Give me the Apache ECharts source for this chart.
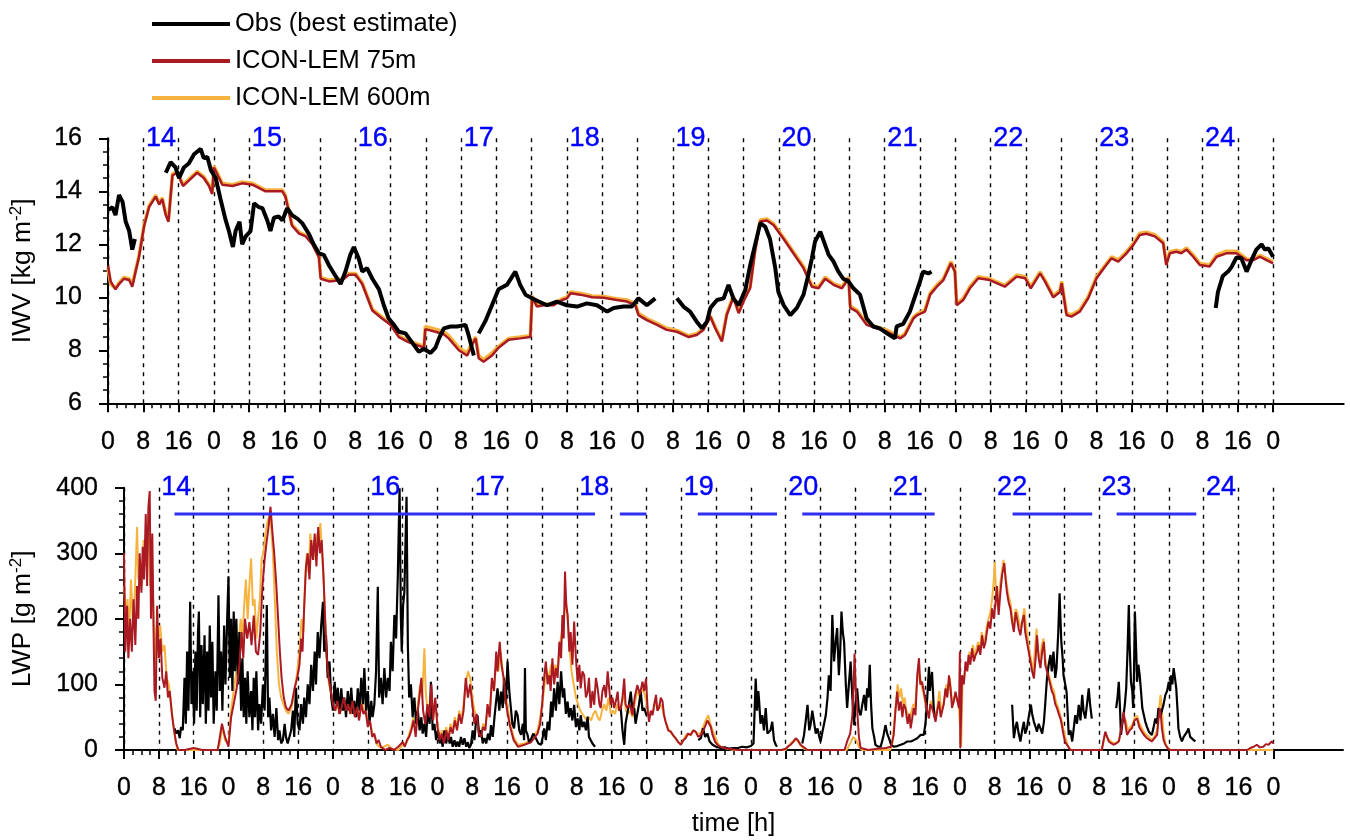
<!DOCTYPE html>
<html>
<head>
<meta charset="utf-8">
<script src="https://cdn.jsdelivr.net/npm/echarts@6/dist/echarts.min.js"></script>
<style>
html, body { margin: 0; padding: 0; background: #fff; }
#chart { width: 1350px; height: 840px; }
</style>
</head>
<body>
<div id="chart"></div>
<script>
// ---- Data: time in hours from 0 UTC on the 14th, values as [hour, value] ----
// null marks a gap in the record.

const dayLabels = ['14', '15', '16', '17', '18', '19', '20', '21', '22', '23', '24'];

// Integrated water vapour [kg m-2]
const iwvObs = [
  [0.1,13.3],[1.0,13.4],[1.7,13.1],[2.5,13.86],[3.3,13.6],[4.0,12.86],[4.8,12.5],[5.1,12.2],[5.5,11.8],[6.1,12.2],null,
  [13.1,14.7],[14.2,15.1],[15.3,14.9],[16.1,14.5],[17.2,14.9],[18.3,15.05],[19.5,15.4],[21.0,15.6],[21.7,15.25],[22.5,15.3],
  [23.3,14.8],[24.4,14.5],[25.5,13.7],[26.6,12.95],[27.4,12.5],[28.3,11.9],[28.9,12.5],[29.8,12.85],[30.4,12.0],[31.2,12.3],
  [32.3,12.5],[33.1,13.55],[34.2,13.4],[35.0,13.36],[36.1,12.9],[36.8,12.5],[37.6,13.0],[38.7,13.05],[39.5,12.9],[40.6,13.36],
  [41.7,13.1],[42.9,12.97],[44.0,12.8],[45.5,12.4],[46.6,12.0],[47.8,11.66],[48.9,11.6],[50.1,11.2],[51.2,10.9],[52.7,10.5],
  [53.8,10.97],[54.9,11.6],[55.7,11.9],[56.8,11.47],[57.6,10.97],[58.7,11.1],[59.9,10.7],[61.4,10.3],[62.5,9.7],[63.6,9.2],
  [64.8,8.96],[65.9,8.7],[67.4,8.64],[68.9,8.3],[70.4,7.95],[71.6,8.05],[73.1,7.9],[74.2,8.1],[75.0,8.45],[76.1,8.83],
  [77.6,8.9],[79.1,8.9],[81.0,8.96],[81.7,8.58],[82.9,7.8],null,
  [84.0,8.64],[85.5,9.1],[87.0,9.7],[88.5,10.3],[90.4,10.47],[92.3,10.97],[93.4,10.47],[94.6,10.1],[96.1,9.96],[97.6,9.84],
  [99.5,9.7],[101.7,9.84],[104.0,9.7],[106.3,9.65],[108.5,9.77],[110.8,9.7],[113.1,9.46],[114.6,9.6],[116.8,9.65],[118.7,9.65],
  [120.2,9.96],[122.1,9.7],[124.0,9.96],null,
  [128.9,9.96],[130.4,9.65],[131.9,9.46],[133.4,9.08],[134.6,8.83],[135.7,9.08],[136.5,9.6],[138.0,9.9],[139.5,9.96],[140.6,10.47],
  [141.7,9.96],[142.9,9.7],[144.4,10.27],[145.5,11.2],[146.6,11.97],[147.8,12.8],[148.9,12.67],[150.0,12.2],[151.2,11.1],[151.9,10.2],
  [153.1,9.7],[154.6,9.33],[156.1,9.6],[157.6,10.1],[158.7,10.85],[159.5,11.47],[160.2,12.1],[161.4,12.48],[162.1,12.16],[163.3,11.6],
  [164.4,11.35],[165.5,10.97],[166.6,10.7],[167.8,10.6],[168.9,10.34],[170.4,10.1],[171.9,9.2],[173.4,8.9],[174.9,8.83],[176.5,8.64],
  [178.3,8.45],[178.7,8.9],[180.2,9.0],[181.7,9.46],[183.2,10.2],[184.0,10.6],[184.7,10.97],[185.9,10.9],[186.6,10.97],null,
  [251.0,9.6],[251.5,10.2],[252.6,10.8],[253.8,10.97],[254.6,11.15],[255.7,11.5],[256.8,11.47],[258.0,10.97],[259.1,11.4],
  [260.2,11.8],[261.4,12.0],[262.1,11.8],[262.9,11.85],[264.0,11.53]
];

const iwv75 = [
  [0,11.2],[0.6,10.6],[1.7,10.3],[2.5,10.5],[3.6,10.7],[4.8,10.65],[5.5,10.4],[6.3,11.0],[7.0,11.5],[8.2,12.7],[9.3,13.4],
  [10.8,13.8],[11.6,13.5],[12.3,13.7],[13.1,13.1],[13.7,12.85],[14.6,14.6],[15.7,14.7],[17.0,14.2],[18.3,14.4],[20.2,14.7],
  [21.7,14.5],[22.9,14.2],[23.6,13.9],[24.0,14.9],[25.9,14.25],[28.2,14.2],[30.4,14.3],[32.7,14.25],[35.7,14.0],[39.5,14.0],
  [40.2,13.8],[41.7,12.7],[43.3,12.4],[44.8,12.3],[46.3,12.0],[47.8,11.5],[48.2,10.7],[50.1,10.6],[53.1,10.65],[54.6,10.85],
  [56.1,10.85],[57.6,10.5],[59.9,9.5],[62.1,9.2],[64.0,8.96],[65.9,8.5],[68.2,8.3],[71.6,8.1],[71.9,8.8],[74.2,8.7],[76.1,8.6],
  [77.2,8.45],[79.5,8.0],[81.4,7.8],[82.5,8.2],[83.3,8.45],[84.0,7.7],[85.1,7.57],[87.0,7.8],[88.5,8.1],[90.8,8.4],[93.4,8.45],
  [95.7,8.5],[96.1,10.0],[97.2,9.65],[98.7,9.7],[101.0,9.7],[102.9,9.9],[104.0,9.96],[104.8,10.15],[107.0,10.1],[109.7,10.0],
  [112.3,9.98],[115.3,9.9],[117.6,9.84],[119.5,9.7],[120.2,9.33],[122.1,9.14],[124.4,8.96],[126.6,8.77],[128.9,8.7],[131.6,8.5],
  [133.4,8.58],[134.9,8.77],[136.5,9.27],[137.6,8.83],[139.1,8.33],[140.2,9.33],[141.7,10.0],[142.9,9.4],[144.0,9.84],[145.5,10.34],
  [146.6,11.72],[147.8,12.86],[149.3,12.9],[150.8,12.73],[153.1,12.2],[155.3,11.66],[157.6,11.1],[159.5,10.4],[161.0,10.34],
  [162.5,10.7],[164.4,10.47],[166.3,10.34],[167.8,10.7],[168.2,9.6],[169.7,9.46],[171.9,8.96],[174.2,8.83],[176.5,8.7],[179.5,8.45],
  [180.6,8.58],[182.5,9.2],[183.4,9.33],[185.1,9.46],[186.3,10.1],[187.8,10.4],[189.3,10.65],[191.0,11.28],[191.9,10.97],[192.3,9.7],
  [193.8,9.9],[195.3,10.34],[197.2,10.72],[199.8,10.65],[203.2,10.4],[205.9,10.78],[207.8,10.72],[209.1,10.34],[211.2,10.9],
  [212.3,10.6],[214.2,10.0],[215.7,10.2],[216.1,10.53],[217.2,9.33],[218.3,9.27],[220.2,9.46],[222.1,9.96],[224.0,10.72],[225.9,11.15],
  [227.4,11.47],[228.9,11.35],[230.8,11.66],[232.3,11.97],[233.8,12.35],[235.3,12.4],[237.2,12.3],[239.1,12.04],[239.8,11.22],
  [240.6,11.66],[242.1,11.72],[243.2,11.66],[244.4,11.8],[245.9,11.53],[247.4,11.22],[249.6,11.16],[251.2,11.53],[253.4,11.66],
  [255.7,11.66],[258.0,11.4],[259.5,11.4],[261.0,11.53],[262.5,11.4],[264.0,11.28]
];

const iwv600 = [
  [0,11.1],[0.6,10.5],[1.7,10.35],[2.5,10.55],[3.6,10.75],[4.8,10.7],[5.5,10.5],[6.3,11.05],[7.0,11.55],[8.2,12.75],[9.3,13.45],
  [10.8,13.85],[11.6,13.55],[12.3,13.75],[13.1,13.15],[13.7,12.9],[14.6,14.65],[15.7,14.75],[17.0,14.25],[18.3,14.45],[20.2,14.75],
  [21.7,14.55],[22.9,14.25],[23.6,13.95],[24.0,14.95],[25.9,14.3],[28.2,14.25],[30.4,14.35],[32.7,14.3],[35.7,14.05],[39.5,14.05],
  [40.2,13.85],[41.7,12.75],[43.3,12.45],[44.8,12.35],[46.3,12.05],[47.8,11.55],[48.2,10.75],[50.1,10.65],[53.1,10.7],[54.6,10.9],
  [56.1,10.9],[57.6,10.55],[59.9,9.55],[62.1,9.25],[64.0,9.0],[65.9,8.55],[68.2,8.35],[71.6,8.15],[71.9,8.9],[74.2,8.8],[76.1,8.7],
  [77.2,8.55],[79.5,8.1],[81.4,7.9],[82.5,8.3],[83.3,8.5],[84.0,7.8],[85.1,7.65],[87.0,7.9],[88.5,8.15],[90.8,8.45],[93.4,8.5],
  [95.7,8.55],[96.1,10.05],[97.2,9.7],[98.7,9.75],[101.0,9.75],[102.9,9.95],[104.0,10.0],[104.8,10.2],[107.0,10.15],[109.7,10.05],
  [112.3,10.03],[115.3,9.95],[117.6,9.9],[119.5,9.75],[120.2,9.4],[122.1,9.2],[124.4,9.02],[126.6,8.83],[128.9,8.75],[131.6,8.55],
  [133.4,8.63],[134.9,8.82],[136.5,9.3],[137.6,8.88],[139.1,8.38],[140.2,9.38],[141.7,10.05],[142.9,9.45],[144.0,9.9],[145.5,10.4],
  [146.6,11.78],[147.8,12.92],[149.3,12.96],[150.8,12.78],[153.1,12.25],[155.3,11.72],[157.6,11.16],[159.5,10.46],[161.0,10.4],
  [162.5,10.76],[164.4,10.52],[166.3,10.4],[167.8,10.76],[168.2,9.66],[169.7,9.52],[171.9,9.02],[174.2,8.88],[176.5,8.76],[179.5,8.5],
  [180.6,8.64],[182.5,9.25],[183.4,9.38],[185.1,9.52],[186.3,10.16],[187.8,10.46],[189.3,10.7],[191.0,11.34],[191.9,11.02],[192.3,9.76],
  [193.8,9.96],[195.3,10.4],[197.2,10.78],[199.8,10.7],[203.2,10.45],[205.9,10.84],[207.8,10.78],[209.1,10.4],[211.2,10.96],
  [212.3,10.66],[214.2,10.06],[215.7,10.26],[216.1,10.6],[217.2,9.4],[218.3,9.34],[220.2,9.52],[222.1,10.02],[224.0,10.78],[225.9,11.2],
  [227.4,11.53],[228.9,11.41],[230.8,11.72],[232.3,12.03],[233.8,12.42],[235.3,12.46],[237.2,12.36],[239.1,12.1],[239.8,11.28],
  [240.6,11.72],[242.1,11.78],[243.2,11.72],[244.4,11.86],[245.9,11.6],[247.4,11.28],[249.6,11.22],[251.2,11.6],[253.4,11.74],
  [255.7,11.74],[258.0,11.45],[259.5,11.44],[261.0,11.58],[262.5,11.46],[264.0,11.34]
];

// Liquid water path [g m-2]
const lwpObs = [
  [11.6,33],[12.0,25],[12.4,30],[12.8,18],[13.1,35],[13.5,30],[13.9,110],[14.2,40],[14.5,150],[14.8,60],[15.2,226],[15.5,70],
  [15.8,120],[16.1,40],[16.4,150],[16.7,60],[17.0,180],[17.2,211],[17.5,50],[17.8,160],[18.1,70],[18.5,175],[18.8,40],[19.1,150],
  [19.4,60],[19.7,190],[20.0,80],[20.3,165],[20.6,40],[21.0,120],[21.3,60],[21.7,236],[22.0,90],[22.3,150],[22.6,60],[23.0,190],
  [23.3,100],[23.7,200],[24.0,265],[24.3,110],[24.6,200],[24.9,90],[25.2,211],[25.5,120],[25.8,200],[26.2,100],[26.5,180],[26.9,60],
  [27.2,140],[27.5,50],[27.8,110],[28.1,40],[28.4,120],[28.8,50],[29.2,90],[29.5,30],[29.8,110],[30.1,50],[30.4,120],[30.8,30],
  [31.1,70],[31.5,40],[31.9,100],[32.3,60],[32.8,221],[33.1,50],[33.4,80],[33.8,30],[34.2,55],[34.6,20],[35.0,64],[35.4,15],
  [35.7,30],[36.1,10],[36.5,15],[36.9,40],[37.2,20],[37.6,10],[38.0,8],[38.4,30],[38.8,60],[39.1,20],[39.5,95],[39.9,40],
  [40.3,30],[40.7,70],[41.1,40],[41.4,80],[41.8,50],[42.2,100],[42.6,70],[43.0,130],[43.4,90],[43.8,150],[44.1,100],[44.5,180],
  [44.9,140],[45.3,190],[45.7,226],[46.0,150],[46.4,175],[46.8,110],[47.2,135],[47.6,80],[48.0,60],[48.4,104],[48.7,70],[49.1,95],
  [49.5,55],[49.9,94],[50.3,60],[50.6,80],[51.0,50],[51.4,90],[51.8,60],[52.2,95],[52.6,55],[52.9,75],[53.3,50],[53.7,94],
  [54.1,60],[54.5,110],[54.9,70],[55.2,125],[55.6,60],[56.0,90],[56.4,40],[56.8,75],[57.1,50],[57.5,69],[57.9,120],[58.3,249],
  [58.6,80],[59.0,110],[59.4,70],[59.8,125],[60.2,80],[60.6,110],[61.0,90],[61.3,165],[61.7,120],[62.1,206],[62.5,170],[62.9,267],
  [63.3,399],[63.6,200],[63.8,150],[64.1,220],[64.4,241],[64.9,386],[65.2,160],[65.5,80],[65.9,100],[66.3,50],[66.7,80],[67.1,40],
  [67.5,60],[67.9,30],[68.3,50],[68.6,25],[69.0,40],[69.4,20],[69.8,64],[70.2,40],[70.5,104],[70.9,30],[71.3,40],[71.7,15],
  [72.1,30],[72.5,10],[72.8,20],[73.2,5],[73.6,30],[74.0,10],[74.4,25],[74.8,10],[75.1,20],[75.5,5],[75.9,15],[76.3,5],
  [76.6,13],[77.0,5],[77.4,20],[77.8,8],[78.2,18],[78.6,5],[79.0,12],[79.3,3],[79.7,8],[80.1,30],[80.5,15],[80.8,40],
  [81.2,53],[81.6,20],[82.0,30],[82.4,10],[82.8,18],[83.2,10],[83.6,25],[84.0,15],[84.3,38],[84.7,20],[85.1,50],[85.4,70],
  [85.8,94],[86.2,60],[86.6,89],[87.0,64],[87.3,110],[87.7,70],[88.1,135],[88.5,90],[88.9,89],[89.2,40],[89.6,33],[90.0,60],
  [90.4,53],[90.8,30],[91.2,23],[91.6,40],[91.9,15],[92.1,125],[92.3,30],[92.7,23],[93.1,10],[93.5,13],[94.0,25],[94.6,18],
  [95.2,10],[95.8,8],[96.2,20],[96.5,33],[96.9,15],[97.3,43],[97.7,30],[98.1,74],[98.4,50],[98.8,94],[99.2,60],[99.6,104],
  [100.0,70],[100.4,120],[100.8,80],[101.1,94],[101.5,55],[101.9,74],[102.2,50],[102.6,64],[103.0,45],[103.4,69],[103.8,35],
  [104.2,48],[104.6,30],[104.9,53],[105.3,35],[105.7,43],[106.1,30],[106.5,51],[106.8,20],[107.2,23],[107.6,10],[108.0,13],[108.2,5],null,
  [113.9,60],[114.1,64],[114.5,30],[114.9,8],[115.2,40],[115.6,43],[116.0,70],[116.4,89],[116.8,60],[117.2,64],[117.5,40],
  [117.9,43],[118.3,70],[118.7,89],[119.1,60],[119.5,64],[120.0,53],null,
  [131.9,15],[132.5,18],[133.0,33],[133.5,20],[134.0,25],[134.5,13],[135.2,8],[136,5],[137,3],[138,4],[139,2],[140,3],[141,3],
  [142,5],[143,4],[144,6],[144.6,10],[145.1,109],[145.4,60],[145.7,90],[145.9,74],[146.2,40],[146.6,53],[147.0,30],[147.4,64],
  [147.8,25],[148.2,23],[148.5,30],[148.9,43],[149.3,15],[149.7,8],[150.0,5],null,
  [155.8,10],[156.2,23],[156.6,45],[157.0,69],[157.4,30],[157.7,38],[158.1,60],[158.5,58],[158.9,25],[159.3,33],[159.7,20],
  [160.0,13],[160.5,30],[161.2,53],[161.6,80],[161.9,114],[162.3,90],[162.7,206],[163.1,135],[163.4,160],[163.8,186],[164.2,114],
  [164.5,150],[164.8,211],[165.1,180],[165.4,165],[165.8,100],[166.1,64],[166.5,100],[166.9,135],[167.3,80],[167.7,38],[168.0,70],
  [168.4,94],[168.8,60],[169.2,53],[169.6,70],[170.0,84],[170.4,60],[170.7,94],[171.0,80],[171.3,130],[171.6,70],[171.9,33],
  [172.3,20],[172.6,8],[173.2,5],[173.8,5],[174.4,20],[174.9,38],[175.3,25],[175.7,18],[176.2,8],[176.8,5],[177.6,6],[178.4,8],
  [179.2,10],[179.9,13],[180.7,13],[181.4,15],[182.2,18],[183.0,23],[183.7,23],[184.1,40],[184.5,79],[184.9,127],[185.1,90],
  [185.3,89],[185.6,119],[186.0,64],[186.2,50],null,
  [204.0,69],[204.4,18],[204.8,35],[205.1,43],[205.5,25],[205.9,13],[206.3,30],[206.7,43],[207.0,25],[207.4,33],[207.8,50],
  [208.3,69],[208.6,55],[209.0,43],[209.4,35],[209.7,28],[210.1,40],[210.5,33],[210.9,25],[211.3,43],[211.6,70],[212.0,109],
  [212.4,130],[212.8,145],[213.1,120],[213.5,150],[213.9,110],[214.2,125],[214.6,180],[214.9,239],[215.1,200],[215.3,165],
  [215.6,140],[215.8,114],[216.2,100],[216.5,89],[216.8,50],[217.0,23],[217.4,30],[217.8,13],[218.1,30],[218.5,53],[218.9,40],
  [219.3,69],[219.7,45],[220.1,84],[220.4,60],[220.8,48],[221.2,70],[221.6,94],[221.9,70],[222.3,48],null,
  [227.9,64],[228.2,80],[228.5,104],[228.8,60],[229.0,23],[229.3,40],[229.6,53],[229.9,70],[230.2,94],[230.5,150],[230.8,221],
  [231.0,160],[231.3,104],[231.6,90],[231.8,64],[232.0,120],[232.2,211],[232.5,150],[232.7,104],[233.0,130],[233.3,114],[233.6,90],
  [233.9,64],[234.2,55],[234.6,43],[235.0,35],[235.4,28],[235.8,30],[236.1,23],[236.5,35],[236.9,48],[237.3,40],[237.6,64],
  [238.0,50],[238.4,53],[238.8,70],[239.2,84],[239.6,90],[240.0,104],[240.3,90],[240.5,114],[240.8,100],[241.1,125],[241.4,110],
  [241.7,94],[242.0,60],[242.2,33],[242.6,20],[243.0,13],[243.4,20],[243.8,23],[244.2,28],[244.5,33],[244.9,20],[245.3,18],
  [245.7,15],[246.1,13]
];

const lwp75 = [
  [0,300],[0.3,150],[0.7,220],[1.0,140],[1.4,200],[1.8,150],[2.2,230],[2.6,160],[3.0,250],[3.3,200],[3.6,300],[4.0,240],
  [4.3,310],[4.6,260],[5.0,360],[5.3,250],[5.6,370],[5.9,395],[6.2,200],[6.5,330],[6.8,180],[7.0,90],[7.3,75],[7.6,220],
  [8.0,140],[8.4,170],[8.8,110],[9.3,95],[9.7,120],[10.1,80],[10.5,90],[11.0,55],[11.5,30],[12.0,10],[12.5,0],[14,0],[16,3],
  [18,0],[21.5,0],[21.9,15],[22.5,40],[23.2,20],[24.0,5],[24.6,50],[25.2,70],[25.9,95],[26.5,130],[27.0,180],[27.4,140],
  [27.8,200],[28.3,170],[28.8,195],[29.3,160],[29.8,205],[30.3,150],[30.8,145],[31.3,180],[31.8,250],[32.3,290],[32.8,320],
  [33.2,340],[33.65,371],[34.0,340],[34.5,300],[35.0,250],[35.4,200],[35.8,150],[36.2,110],[36.7,80],[37.2,65],[37.8,60],
  [38.5,70],[39.2,95],[39.8,110],[40.3,130],[40.7,170],[41.0,150],[41.4,220],[41.8,280],[42.2,300],[42.6,260],[43.0,320],
  [43.4,290],[43.8,330],[44.2,280],[44.6,340],[45.0,300],[45.4,320],[45.8,270],[46.2,200],[46.6,140],[47.0,110],[47.5,90],
  [48.0,70],[48.5,60],[49.0,75],[49.5,55],[50.0,65],[50.5,80],[51.0,60],[51.5,70],[52.0,55],[52.5,75],[53.0,50],[53.5,65],
  [54.0,45],[54.5,70],[55.0,55],[55.5,60],[56.0,35],[56.5,45],[57.0,20],[57.5,25],[58.0,10],[58.5,15],[59.0,5],[60,0],[61,3],
  [62,0],[63,5],[64,12],[64.5,5],[65,15],[65.5,20],[66.0,30],[66.5,45],[67.0,20],[67.5,60],[68.0,90],[68.3,110],[68.7,60],
  [69.2,40],[69.7,70],[70.2,50],[70.6,100],[71.0,45],[71.5,80],[72.0,35],[72.5,15],[73.0,25],[73.5,10],[74.0,30],[74.5,15],
  [75.0,35],[75.5,25],[76.0,45],[76.5,30],[77.0,55],[77.5,40],[78.0,60],[78.5,110],[79.0,80],[79.5,100],[80.0,70],[80.5,40],
  [81.0,55],[81.5,25],[82.0,20],[82.5,35],[83.0,30],[83.5,70],[84.0,50],[84.5,110],[85.0,90],[85.5,150],[85.8,120],[86.3,165],
  [86.7,130],[87.2,110],[87.6,80],[88.0,60],[88.7,35],[89.5,15],[90.5,5],[92,8],[93.5,12],[95.0,25],[95.6,40],[96.1,74],
  [96.5,110],[96.9,135],[97.3,100],[97.7,114],[98.0,90],[98.4,140],[98.8,100],[99.2,125],[99.6,110],[100.0,165],[100.4,140],
  [100.7,206],[101.0,170],[101.3,272],[101.6,220],[101.9,206],[102.3,150],[102.6,180],[103.0,130],[103.4,196],[103.8,140],
  [104.2,104],[104.6,130],[104.9,94],[105.3,120],[105.7,114],[106.1,80],[106.5,89],[106.8,110],[107.2,64],[107.6,90],[108.0,69],
  [108.4,110],[108.8,94],[109.2,70],[109.5,64],[109.9,90],[110.3,99],[110.7,80],[111.1,120],[111.5,90],[111.8,69],[112.2,80],
  [112.6,64],[113.0,75],[113.4,89],[113.7,60],[114.1,64],[114.5,80],[114.9,109],[115.2,70],[115.6,64],[116.2,70],[116.8,53],
  [117.3,80],[117.9,99],[118.5,85],[119.1,104],[119.5,90],[119.9,109],[120.3,60],[120.6,43],[121.0,60],[121.4,53],[121.8,70],
  [122.2,84],[122.5,60],[122.9,64],[123.3,80],[123.7,74],[124.0,55],[124.4,43],[125.0,30],[125.6,28],[126.2,22],[126.7,18],
  [127.3,12],[127.9,8],[128.5,15],[129.0,18],[129.6,25],[130.2,23],[130.8,30],[131.3,28],[131.9,20],[132.5,23],[133.1,30],
  [133.6,38],[134.0,45],[134.4,48],[134.8,35],[135.2,23],[135.8,12],[136.3,8],[137.0,5],[137.8,3],[139,2],[141,0],[151,0],
  [152.0,2],[152.6,6],[153.1,8],[153.7,12],[154.3,18],[154.8,15],[155.4,8],[155.8,5],[157,0],[165.5,0],[166.1,13],[166.8,25],
  [167.3,53],[167.6,100],[167.8,147],[168.1,90],[168.4,64],[168.8,20],[169.2,3],[171,0],[173,2],[175,3],[176.2,5],[176.8,23],
  [177.2,60],[177.6,89],[178.0,60],[178.4,74],[178.8,50],[179.1,70],[179.5,64],[180.0,40],[180.4,55],[180.7,33],[181.1,50],
  [181.4,64],[181.8,53],[182.2,114],[182.6,140],[182.9,100],[183.3,104],[183.7,90],[184.1,74],[184.5,60],[184.9,48],[185.2,70],
  [185.6,64],[186.0,55],[186.4,43],[186.8,60],[187.2,74],[187.6,50],[187.9,53],[188.3,70],[188.7,94],[189.1,80],[189.5,114],
  [189.9,90],[190.2,64],[190.6,75],[191.0,89],[191.4,75],[191.8,64],[192.0,150],[192.1,3],[192.3,60],[192.5,114],[192.9,100],
  [193.3,135],[193.7,120],[194.0,145],[194.4,130],[194.8,155],[195.2,135],[195.6,145],[196.0,150],[196.3,160],[196.7,145],
  [197.1,175],[197.5,155],[197.9,165],[198.2,180],[198.6,196],[199.0,185],[199.4,216],[199.8,200],[200.2,226],[200.5,250],
  [200.9,206],[201.3,240],[201.7,267],[202.2,285],[202.5,260],[202.8,241],[203.2,225],[203.6,216],[204.0,195],[204.4,180],
  [204.8,210],[205.1,201],[205.5,185],[205.9,175],[206.3,195],[206.7,206],[207.0,180],[207.4,165],[207.8,150],[208.2,135],
  [208.6,120],[209.0,109],[209.4,140],[209.7,175],[210.1,140],[210.5,125],[210.9,150],[211.3,165],[211.6,130],[212.0,120],
  [212.4,110],[212.8,99],[213.1,90],[213.5,84],[213.9,70],[214.3,64],[214.7,55],[215.1,48],[215.5,35],[215.8,23],[216.2,12],
  [216.6,8],[217.4,0],[224.6,0],[225.0,15],[225.4,28],[225.8,20],[226.2,13],[226.8,10],[227.3,8],[227.9,10],[228.5,13],
  [229.0,30],[229.6,58],[230.0,40],[230.4,23],[231.0,30],[231.5,33],[232.1,45],[232.7,48],[233.2,35],[233.8,28],[234.4,22],
  [235.0,18],[235.6,15],[236.1,13],[236.7,18],[237.3,23],[237.6,45],[237.9,64],[238.2,50],[238.4,33],[238.8,15],[239.2,8],
  [239.8,2],[240.3,0],[258.0,0],[258.7,3],[259.5,5],[260.2,8],[260.9,4],[261.7,5],[262.3,9],[262.9,8],[263.6,13],[264.0,10]
];

const lwp600 = [
  [0,250],[0.4,200],[0.8,230],[1.2,180],[1.6,260],[2.0,200],[2.5,240],[3.0,340],[3.3,260],[3.7,280],[4.1,250],[4.5,320],
  [4.9,280],[5.3,300],[5.7,330],[6.0,250],[6.4,300],[6.8,200],[7.1,130],[7.5,190],[7.9,170],[8.3,190],[8.8,150],[9.3,160],
  [9.8,110],[10.3,100],[10.8,70],[11.3,40],[11.8,15],[12.3,0],[21.5,0],[22,10],[22.6,35],[23.2,15],[24.0,10],[24.6,60],
  [25.2,90],[25.8,120],[26.3,160],[26.8,200],[27.2,170],[27.6,220],[28.0,260],[28.4,200],[28.8,250],[29.2,292],[29.6,220],
  [30.0,230],[30.4,170],[30.8,200],[31.2,230],[31.6,290],[32.0,300],[32.5,330],[33.0,350],[33.4,356],[33.8,340],[34.2,300],
  [34.7,220],[35.1,150],[35.6,100],[36.1,80],[36.6,70],[37.2,60],[37.8,55],[38.5,65],[39.2,90],[39.8,120],[40.3,150],[40.8,200],
  [41.2,180],[41.6,260],[42.0,300],[42.4,270],[42.8,330],[43.2,300],[43.6,320],[44.0,290],[44.4,330],[44.8,320],[45.1,346],
  [45.5,300],[45.9,250],[46.3,180],[46.7,120],[47.1,100],[47.6,85],[48.1,65],[48.6,60],[49.1,70],[49.6,55],[50.1,70],[50.6,75],
  [51.1,60],[51.6,65],[52.1,55],[52.6,70],[53.1,55],[53.6,60],[54.1,50],[54.6,75],[55.1,60],[55.6,55],[56.1,40],[56.6,40],
  [57.1,25],[57.6,20],[58.1,8],[59.0,3],[60.6,8],[61.5,2],[63,0],[64,8],[65,12],[65.5,25],[66.0,35],[66.5,50],[67.0,30],
  [67.5,70],[68.0,100],[68.5,80],[69.0,155],[69.3,90],[69.7,60],[70.2,70],[70.6,90],[71.0,60],[71.5,70],[72.0,40],[72.5,20],
  [73.0,30],[73.5,15],[74.0,35],[74.5,20],[75.0,40],[75.5,30],[76.0,50],[76.5,35],[77.0,60],[77.5,45],[78.0,70],[78.5,100],
  [79.0,120],[79.5,110],[80.0,80],[80.5,60],[81.0,50],[81.5,30],[82.0,25],[82.5,40],[83.0,35],[83.5,60],[84.0,55],[84.5,100],
  [85.0,95],[85.5,130],[86.0,120],[86.5,150],[87.0,120],[87.5,90],[88.0,70],[88.7,40],[89.5,20],[90.5,8],[92,10],[93.5,15],
  [95.0,30],[95.6,50],[96.1,70],[96.6,100],[97.1,120],[97.6,110],[98.1,130],[98.6,115],[99.1,130],[99.6,120],[100.1,160],
  [100.6,180],[101.0,200],[101.5,230],[101.9,200],[102.4,150],[102.8,120],[103.3,100],[103.8,80],[104.3,70],[104.8,60],
  [105.3,55],[105.8,50],[106.3,45],[106.8,50],[107.3,45],[107.8,55],[108.3,60],[108.8,50],[109.3,45],[109.8,60],[110.3,70],
  [110.8,60],[111.3,80],[111.8,55],[112.3,60],[112.8,55],[113.3,70],[113.8,60],[114.3,65],[114.8,90],[115.3,60],[115.8,55],
  [116.3,60],[116.8,50],[117.3,70],[117.9,90],[118.5,80],[119.1,95],[119.6,85],[120.1,70],[120.6,50],[121.1,55],[121.6,60],
  [122.1,75],[122.6,60],[123.1,70],[123.6,65],[124.1,50],[124.6,40],[125.2,30],[125.8,25],[126.4,20],[127.0,15],[127.6,10],
  [128.2,12],[128.8,20],[129.4,25],[130.0,22],[130.6,30],[131.2,28],[131.8,25],[132.4,25],[133.0,35],[133.6,45],[134.2,53],
  [134.7,40],[135.2,30],[135.8,20],[136.4,10],[137.0,5],[138,3],[140,0],[152,0],[152.6,5],[153.1,10],[153.7,14],[154.3,16],
  [154.9,12],[155.5,6],[156.2,2],[157,0],[166,0],[166.8,10],[167.5,20],[168.2,15],[168.8,5],[169.5,0],[176,0],[176.5,10],
  [176.9,40],[177.3,70],[177.7,100],[178.1,80],[178.5,94],[178.9,70],[179.3,80],[179.7,60],[180.1,55],[180.5,45],[180.9,60],
  [181.3,70],[181.7,65],[182.1,100],[182.5,120],[182.9,110],[183.3,95],[183.7,85],[184.1,70],[184.5,60],[184.9,55],[185.3,75],
  [185.7,70],[186.1,60],[186.5,50],[186.9,70],[187.3,90],[187.7,60],[188.1,65],[188.5,80],[188.9,100],[189.3,85],[189.7,110],
  [190.1,80],[190.5,70],[190.9,85],[191.3,80],[191.7,70],[192.0,40],[192.3,5],[192.6,100],[193.0,110],[193.4,130],[193.8,125],
  [194.2,150],[194.6,140],[195.0,160],[195.4,140],[195.8,155],[196.2,165],[196.6,150],[197.0,180],[197.4,165],[197.8,170],
  [198.2,190],[198.6,200],[199.0,210],[199.4,230],[199.8,260],[200.0,287],[200.4,230],[200.8,215],[201.2,250],[201.6,270],
  [202.0,290],[202.4,270],[202.8,250],[203.2,235],[203.6,225],[204.0,205],[204.4,190],[204.8,215],[205.2,210],[205.6,195],
  [206.0,185],[206.4,200],[206.8,216],[207.2,190],[207.6,170],[208.0,150],[208.4,135],[208.8,120],[209.2,150],[209.6,185],
  [210.0,150],[210.4,130],[210.8,160],[211.2,170],[211.6,140],[212.0,125],[212.4,115],[212.8,105],[213.2,95],[213.6,90],
  [214.0,75],[214.4,68],[214.8,60],[215.2,50],[215.6,38],[216.0,25],[216.4,15],[216.9,5],[217.5,0],[224.6,0],[225.0,12],
  [225.4,25],[225.8,22],[226.3,15],[226.9,12],[227.5,10],[228.1,12],[228.6,15],[229.1,35],[229.6,50],[230.1,45],[230.6,30],
  [231.1,35],[231.6,38],[232.2,50],[232.7,52],[233.3,40],[233.9,32],[234.5,25],[235.1,22],[235.7,18],[236.2,15],[236.8,22],
  [237.3,30],[237.7,60],[238.1,84],[238.4,60],[238.8,25],[239.2,10],[239.8,3],[240.3,0],[264,0]
];

// Periods covered by the LWP observations, drawn as bars near the top of the panel
const obsPeriods = [[11.6,108.2],[113.9,120.0],[131.8,150.0],[155.8,186.2],[204.1,222.4],[228.0,246.3]];
const obsPeriodLevel = 360;

// ---- Styling ----
const FONT = '"Liberation Sans", Arial, Helvetica, sans-serif';
const C_OBS = '#000000';
const C_75 = '#aa1a22';
const C_600 = '#f7b340';
const C_DAY = '#0000ff';
const C_PERIOD = '#2f2ff2';

const majorTicks = [];
for (let h = 0; h <= 264; h += 8) majorTicks.push(h);
const minorTicks = [];
for (let h = 0; h <= 264; h += 2) minorTicks.push(h);

const withGaps = arr => arr.map(p => (p === null ? ['-', '-'] : p));
const periodData = [];
obsPeriods.forEach(([s, e]) => { periodData.push([s, obsPeriodLevel], [e, obsPeriodLevel], ['-', '-']); });

const tickText = { fontSize: 25, color: '#000', fontFamily: FONT, textBorderColor: '#000', textBorderWidth: 0.35 };

function mainX(gridIndex, extra) {
  return Object.assign({
    type: 'value', gridIndex, position: 'bottom', min: 0, max: 280, interval: 8,
    axisLine: { show: true, onZero: false, lineStyle: { color: '#000', width: 2 } },
    axisTick: { show: true, inside: false, length: 9, customValues: majorTicks, lineStyle: { color: '#000', width: 2 } },
    axisLabel: Object.assign({ show: true, customValues: majorTicks, formatter: v => String(v % 24), margin: 26 }, tickText),
    splitLine: { show: true, lineStyle: { color: '#000', width: 1.4, type: [4, 5] } },
    minorTick: { show: false }, minorSplitLine: { show: false }
  }, extra || {});
}
function minorX(gridIndex) {
  return {
    type: 'value', gridIndex, position: 'bottom', min: 0, max: 280,
    axisLine: { show: false },
    axisTick: { show: true, inside: false, length: 5, customValues: minorTicks, lineStyle: { color: '#000', width: 1.5 } },
    axisLabel: { show: false }, splitLine: { show: false }
  };
}
function yAxisDef(gridIndex, min, max, interval, minorSplit, name, nameGap) {
  return {
    type: 'value', gridIndex, min, max, interval,
    axisLine: { show: true, lineStyle: { color: '#000', width: 2 } },
    axisTick: { show: true, inside: false, length: 9, lineStyle: { color: '#000', width: 2 } },
    minorTick: { show: true, splitNumber: minorSplit, length: 5, lineStyle: { color: '#000', width: 1.5 } },
    axisLabel: Object.assign({ margin: 26 }, tickText),
    splitLine: { show: false },
    name, nameLocation: 'middle', nameGap, nameRotate: 90,
    nameTextStyle: {
      fontSize: 26.5, color: '#000', fontFamily: FONT, lineHeight: 30,
      rich: { sup: { fontSize: 17, color: '#000', fontFamily: FONT, verticalAlign: 'top', lineHeight: 30 } }
    }
  };
}

function lineSeries(name, data, color, width, xi, yi, z) {
  return {
    type: 'line', name, data: withGaps(data), xAxisIndex: xi, yAxisIndex: yi,
    showSymbol: false, symbol: 'none', connectNulls: false, animation: false, z,
    color, itemStyle: { color }, lineStyle: { color, width }, emphasis: { disabled: true }
  };
}
function dayLabelSeries(xi, yi, level) {
  return {
    type: 'scatter', xAxisIndex: xi, yAxisIndex: yi, silent: true, z: 10, clip: false, animation: false,
    symbolSize: 0, itemStyle: { color: C_DAY, opacity: 1 },
    data: dayLabels.map((d, i) => [24 * i + 12, level]),
    label: { show: true, position: 'inside', formatter: p => dayLabels[p.dataIndex], opacity: 1,
             fontSize: 27, color: C_DAY, fontFamily: FONT, textBorderColor: C_DAY, textBorderWidth: 0.4 }
  };
}

const option = {
  backgroundColor: '#fff',
  animation: false,
  legend: {
    data: ['Obs (best estimate)', 'ICON-LEM 75m', 'ICON-LEM 600m'],
    orient: 'vertical', left: 147, top: 6, icon: 'rect', itemWidth: 78, itemHeight: 4, itemGap: 11,
    textStyle: { fontSize: 25.5, color: '#000', fontFamily: FONT, lineHeight: 26 },
    selectedMode: false
  },
  grid: [
    { left: 107.3, right: 6.3, top: 138.3, bottom: 436.7 },
    { left: 122.7, right: 7, top: 487.7, bottom: 90 }
  ],
  xAxis: [
    mainX(0), minorX(0),
    mainX(1, { name: 'time [h]', nameLocation: 'middle', nameGap: 61,
               nameTextStyle: { fontSize: 25.5, color: '#000', fontFamily: FONT } }),
    minorX(1)
  ],
  yAxis: [
    yAxisDef(0, 6, 16, 2, 4, 'IWV [kg m{sup|-2}]', 70),
    yAxisDef(1, 0, 400, 100, 5, 'LWP [g m{sup|-2}]', 86)
  ],
  series: [
    lineSeries('ICON-LEM 600m', iwv600, C_600, 3.5, 0, 0, 2),
    lineSeries('ICON-LEM 75m', iwv75, C_75, 2.5, 0, 0, 3),
    lineSeries('Obs (best estimate)', iwvObs, C_OBS, 4, 0, 0, 4),
    lineSeries('ICON-LEM 600m', lwp600, C_600, 2, 2, 1, 2),
    lineSeries('Obs (best estimate)', lwpObs, C_OBS, 2.2, 2, 1, 3),
    lineSeries('ICON-LEM 75m', lwp75, C_75, 2, 2, 1, 4),
    lineSeries('obs periods', periodData, C_PERIOD, 3, 2, 1, 5),
    dayLabelSeries(0, 0, 16),
    dayLabelSeries(2, 1, 400)
  ]
};

const chart = echarts.init(document.getElementById('chart'), null, { renderer: 'canvas' });
chart.setOption(option);
</script>
</body>
</html>
